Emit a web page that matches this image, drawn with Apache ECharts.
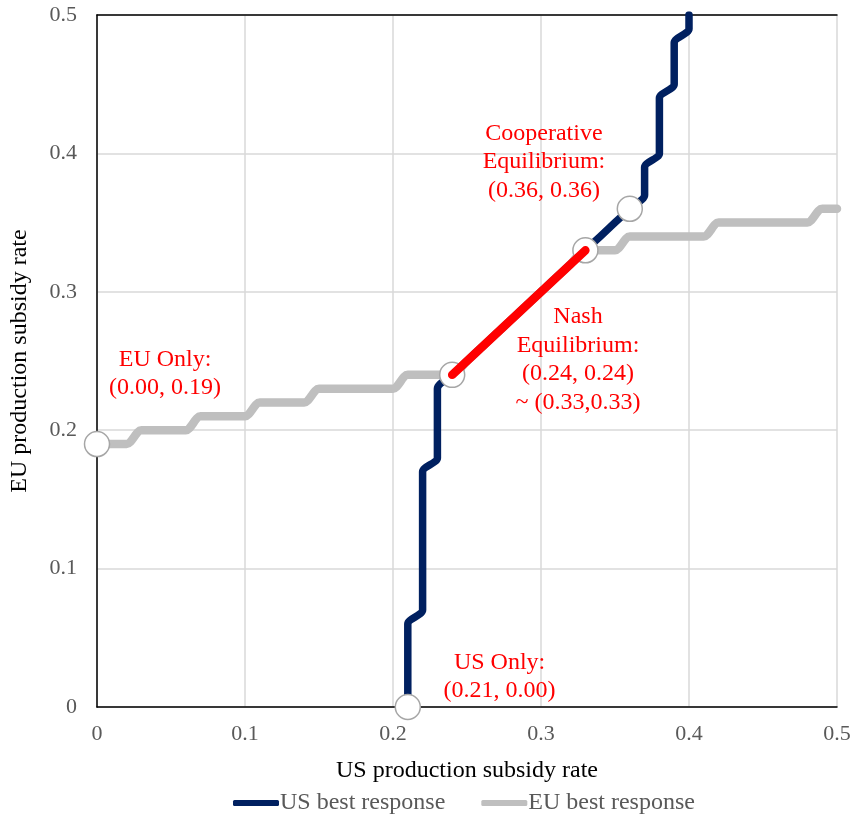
<!DOCTYPE html>
<html>
<head>
<meta charset="utf-8">
<script src="https://cdn.jsdelivr.net/npm/echarts@6/dist/echarts.min.js"></script>
<style>
  html, body { margin: 0; padding: 0; background: #fff; }
  #chart { width: 854px; height: 818px; }
</style>
</head>
<body>
<div id="chart"></div>
<script>
  // EU best response: EU rate for each US rate
  const euX = [0.00, 0.01, 0.02, 0.03, 0.04, 0.05, 0.06, 0.07, 0.08, 0.09, 0.10,
    0.11, 0.12, 0.13, 0.14, 0.15, 0.16, 0.17, 0.18, 0.19, 0.20,
    0.21, 0.22, 0.23, 0.24, 0.25, 0.26, 0.27, 0.28, 0.29, 0.30,
    0.31, 0.32, 0.33, 0.34, 0.35, 0.36, 0.37, 0.38, 0.39, 0.40,
    0.41, 0.42, 0.43, 0.44, 0.45, 0.46, 0.47, 0.48, 0.49, 0.50];
  const euY = [0.19, 0.19, 0.19, 0.20, 0.20, 0.20, 0.20, 0.21, 0.21, 0.21, 0.21,
    0.22, 0.22, 0.22, 0.22, 0.23, 0.23, 0.23, 0.23, 0.23, 0.23,
    0.24, 0.24, 0.24, 0.24, 0.25, 0.26, 0.27, 0.28, 0.29, 0.30,
    0.31, 0.32, 0.33, 0.33, 0.33, 0.34, 0.34, 0.34, 0.34, 0.34,
    0.34, 0.35, 0.35, 0.35, 0.35, 0.35, 0.35, 0.35, 0.36, 0.36];

  // US best response: US rate for each EU rate
  const usY = euX;
  const usX = [0.21, 0.21, 0.21, 0.21, 0.21, 0.21, 0.21, 0.22, 0.22, 0.22, 0.22,
    0.22, 0.22, 0.22, 0.22, 0.22, 0.22, 0.22, 0.23, 0.23, 0.23,
    0.23, 0.23, 0.23, 0.24, 0.25, 0.26, 0.27, 0.28, 0.29, 0.30,
    0.31, 0.32, 0.33, 0.34, 0.35, 0.36, 0.37, 0.37, 0.37, 0.38,
    0.38, 0.38, 0.38, 0.38, 0.39, 0.39, 0.39, 0.39, 0.40, 0.40];

  // Nash range and marked points
  const nashRange = [[0.24, 0.24], [0.33, 0.33]];
  const marked = [[0.00, 0.19], [0.21, 0.00], [0.24, 0.24], [0.33, 0.33], [0.36, 0.36]];

  // annotation texts and where they sit (in axis units)
  const noteText = [
    'Cooperative\nEquilibrium:\n(0.36, 0.36)',
    'Nash\nEquilibrium:\n(0.24, 0.24)\n~ (0.33,0.33)',
    'EU Only:\n(0.00, 0.19)',
    'US Only:\n(0.21, 0.00)'
  ];
  const noteAt = [[0.302, 0.394], [0.325, 0.251], [0.046, 0.241], [0.272, 0.022]];

  const font = "'Liberation Serif', 'Times New Roman', serif";

  let chart = echarts.init(document.getElementById('chart'), null, {renderer: 'canvas'});

  let option = {
    animation: false,
    backgroundColor: '#fff',
    grid: {left: 97, right: 17, top: 15, bottom: 111},
    legend: {
      data: ['US best response', 'EU best response'],
      top: 786,
      left: 228,
      icon: 'roundRect',
      itemWidth: 46,
      itemHeight: 6,
      itemGap: 36,
      textStyle: {fontFamily: font, fontSize: 24, color: '#595959', padding: [0, 0, 0, -4]}
    },
    xAxis: [{
      type: 'value',
      min: 0,
      max: 0.5,
      interval: 0.1,
      name: 'US production subsidy rate',
      nameLocation: 'middle',
      nameGap: 52,
      nameTextStyle: {fontFamily: font, fontSize: 24, color: '#000'},
      axisLine: {show: true, lineStyle: {color: '#000', width: 1.5}},
      axisTick: {show: false},
      axisLabel: {fontFamily: font, fontSize: 22, color: '#595959', margin: 16},
      splitLine: {show: true, lineStyle: {color: '#d9d9d9', width: 1.5}}
    }, {
      type: 'value',
      position: 'top',
      min: 0,
      max: 0.5,
      axisLine: {show: true, lineStyle: {color: '#000', width: 1.5}},
      axisTick: {show: false},
      axisLabel: {show: false},
      splitLine: {show: false}
    }],
    yAxis: {
      type: 'value',
      min: 0,
      max: 0.5,
      interval: 0.1,
      name: 'EU production subsidy rate',
      nameLocation: 'middle',
      nameGap: 65,
      nameTextStyle: {fontFamily: font, fontSize: 24, color: '#000'},
      axisLine: {show: true, lineStyle: {color: '#000', width: 1.5}},
      axisTick: {show: false},
      axisLabel: {fontFamily: font, fontSize: 22, color: '#595959', margin: 20},
      splitLine: {show: true, lineStyle: {color: '#d9d9d9', width: 1.5}}
    },
    series: [{
      name: 'EU best response',
      type: 'line',
      color: '#bfbfbf',
      data: euX.map((x, i) => [x, euY[i]]),
      smooth: 0.3,
      showSymbol: false,
      lineStyle: {width: 8.5, cap: 'round', join: 'round'},
      z: 2
    }, {
      name: 'US best response',
      type: 'line',
      color: '#002060',
      data: usX.map((x, i) => [x, usY[i]]),
      smooth: 0.3,
      showSymbol: false,
      lineStyle: {width: 7.5, cap: 'round', join: 'round'},
      z: 3
    }, {
      name: 'marked',
      type: 'scatter',
      data: marked,
      symbol: 'circle',
      symbolSize: 25,
      clip: false,
      itemStyle: {color: '#fff', borderColor: '#a6a6a6', borderWidth: 1.5, opacity: 1},
      z: 4
    }, {
      name: 'nash',
      type: 'line',
      data: nashRange,
      color: '#ff0000',
      showSymbol: false,
      lineStyle: {width: 8.5, cap: 'round'},
      z: 5
    }, {
      name: 'notes',
      type: 'scatter',
      symbolSize: 0,
      clip: false,
      data: noteAt.map((p, i) => ({value: p, label: {formatter: noteText[i]}})),
      itemStyle: {opacity: 1},
      label: {
        show: true,
        position: 'inside',
        fontFamily: font,
        fontSize: 24,
        lineHeight: 28.5,
        color: '#ff0000',
        opacity: 1,
        align: 'center'
      },
      z: 6
    }]
  };

  chart.setOption(option);
</script>
</body>
</html>
